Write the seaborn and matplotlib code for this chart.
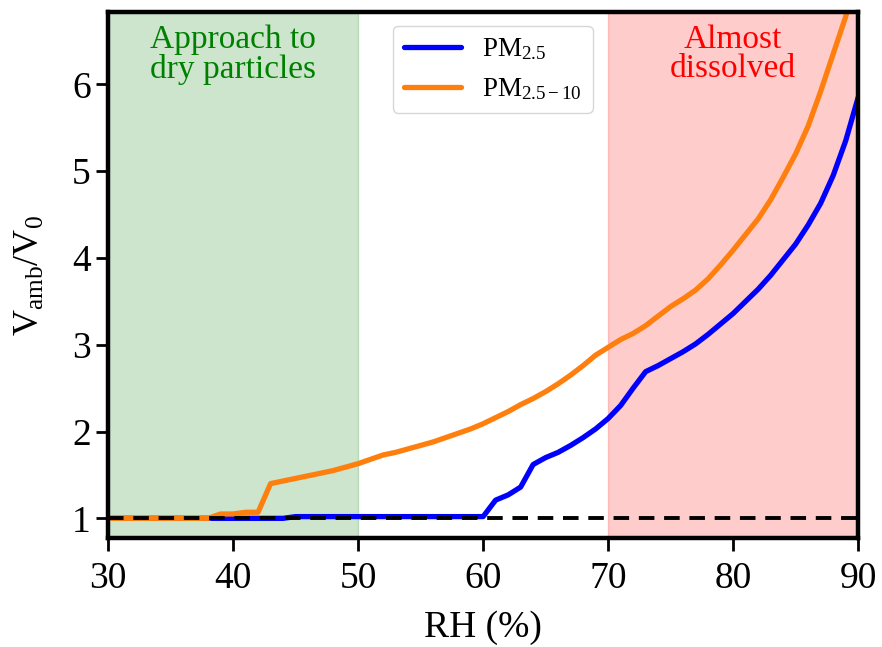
import matplotlib
matplotlib.use("Agg")
import matplotlib.pyplot as plt
import seaborn as sns
import pandas as pd

rh = list(range(30, 91))

pm25 = [1.0] * 15 + [1.02] * 16 + [
    1.21, 1.27, 1.36, 1.62, 1.70, 1.76, 1.84, 1.93, 2.03, 2.15,
    2.30, 2.50, 2.69, 2.76, 2.84, 2.92, 3.01, 3.12, 3.24, 3.36,
    3.50, 3.64, 3.80, 3.98, 4.16, 4.38, 4.63, 4.95, 5.35, 5.85,
]

pm25_10 = [1.0] * 9 + [
    1.05, 1.05, 1.07, 1.07, 1.40, 1.43, 1.46, 1.49, 1.52, 1.55,
    1.59, 1.63, 1.68, 1.73, 1.76, 1.80, 1.84, 1.88, 1.93, 1.98,
    2.03, 2.09, 2.16, 2.23, 2.31, 2.38, 2.46, 2.55, 2.65, 2.76,
    2.88, 2.97, 3.06, 3.13, 3.22, 3.33, 3.44, 3.53, 3.63, 3.76,
    3.92, 4.09, 4.27, 4.45, 4.67, 4.93, 5.20, 5.52, 5.92, 6.35,
    6.78, 7.30,
]

df = pd.DataFrame({"RH": rh, "PM2.5": pm25, "PM2.5-10": pm25_10})

sns.set_style("ticks")
plt.rcParams["font.family"] = ["Liberation Serif", "DejaVu Serif"]
plt.rcParams["mathtext.fontset"] = "custom"
plt.rcParams["mathtext.rm"] = "Liberation Serif"
plt.rcParams["mathtext.it"] = "Liberation Serif:italic"
plt.rcParams["text.color"] = "black"
plt.rcParams["axes.labelcolor"] = "black"
plt.rcParams["xtick.color"] = "black"
plt.rcParams["ytick.color"] = "black"
plt.rcParams["axes.edgecolor"] = "black"

fig, ax = plt.subplots(figsize=(8.82, 6.47), dpi=100)
fig.subplots_adjust(left=0.1225, right=0.973, top=0.981, bottom=0.168)

ax.axvspan(30, 50, color="green", alpha=0.2)
ax.axvspan(70, 90, color="red", alpha=0.2)

sns.lineplot(data=df, x="RH", y="PM2.5", color="blue", lw=3.8,
             label=r"$\mathrm{PM_{2.5}}$", ax=ax)
sns.lineplot(data=df, x="RH", y="PM2.5-10", color="#ff7f0e", lw=3.8,
             label=r"$\mathrm{PM_{2.5-10}}$", ax=ax)
ax.axhline(1, color="black", lw=2.8, ls=(0, (4, 2.5)))

ax.text(40, 6.69, "Approach to\ndry particles", color="green", fontsize=24,
        ha="center", va="top", linespacing=0.95)
ax.text(80, 6.69, "Almost\ndissolved", color="red", fontsize=24,
        ha="center", va="top", linespacing=0.95)

ax.set_xlim(30, 90)
ax.set_ylim(0.77, 6.83)
ax.set_xticks([30, 40, 50, 60, 70, 80, 90])
ax.set_yticks([1, 2, 3, 4, 5, 6])
ax.set_xlabel("RH (%)", fontsize=27, labelpad=10)
ax.set_ylabel(r"$\mathrm{V_{amb}/V_0}$", fontsize=26, labelpad=18)
ax.tick_params(labelsize=27, width=2, length=9)
ax.tick_params(axis="x", pad=8)
for s in ax.spines.values():
    s.set_linewidth(3.2)
    s.set_visible(True)

ax.legend(loc="upper center", fontsize=19.5, frameon=True, framealpha=0.8,
          bbox_to_anchor=(0.513, 1.0), handlelength=2.1)

fig.savefig("out.png", dpi=100)
